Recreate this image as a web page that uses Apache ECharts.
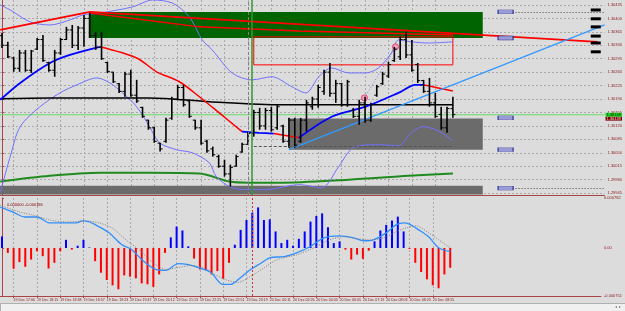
<!DOCTYPE html>
<html>
<head>
<meta charset="utf-8">
<script src="https://cdn.jsdelivr.net/npm/echarts@6/dist/echarts.min.js"></script>
<style>
  html, body { margin: 0; padding: 0; background: #dcdcdc; }
  #chart { width: 625px; height: 311px; }
</style>
</head>
<body>
<div id="chart"></div>
<script>
// price bars (index 0..77)
const opens = [1.30355,1.30330,1.30297,1.30270,1.30310,1.30265,1.30320,1.30345,1.30285,1.30265,
  1.30310,1.30345,1.30370,1.30330,1.30375,1.30400,1.30355,1.30325,1.30285,1.30260,
  1.30230,1.30210,1.30255,1.30200,1.30168,1.30135,1.30115,1.30075,1.30080,1.30140,
  1.30190,1.30220,1.30185,1.30135,1.30115,1.30080,1.30060,1.30040,1.30015,1.29995,
  1.30015,1.30052,1.30072,1.30100,1.30155,1.30120,1.30160,1.30115,1.30120,1.30080,
  1.30135,1.30080,1.30135,1.30170,1.30190,1.30210,1.30260,1.30205,1.30230,1.30175,
  1.30160,1.30145,1.30180,1.30135,1.30200,1.30230,1.30250,1.30290,1.30300,1.30345,
  1.30305,1.30280,1.30238,1.30210,1.30180,1.30150,1.30115,1.30165];
const closes = [1.30330,1.30300,1.30270,1.30310,1.30265,1.30315,1.30345,1.30290,1.30265,1.30310,
  1.30345,1.30370,1.30330,1.30375,1.30400,1.30355,1.30325,1.30295,1.30262,1.30235,
  1.30210,1.30255,1.30200,1.30185,1.30145,1.30115,1.30080,1.30060,1.30135,1.30190,
  1.30220,1.30175,1.30145,1.30115,1.30075,1.30055,1.30045,1.30015,1.29995,1.30012,
  1.30040,1.30072,1.30100,1.30155,1.30120,1.30160,1.30110,1.30170,1.30080,1.30135,
  1.30070,1.30135,1.30180,1.30190,1.30220,1.30260,1.30205,1.30230,1.30175,1.30235,
  1.30145,1.30180,1.30135,1.30175,1.30222,1.30255,1.30280,1.30320,1.30345,1.30305,
  1.30265,1.30238,1.30210,1.30180,1.30145,1.30115,1.30165,1.30150];
const highs = [1.30362,1.30339,1.30300,1.30318,1.30318,1.30318,1.30349,1.30357,1.30287,1.30318,
  1.30349,1.30378,1.30383,1.30380,1.30409,1.30414,1.30365,1.30365,1.30287,1.30261,
  1.30232,1.30261,1.30266,1.30240,1.30170,1.30136,1.30118,1.30076,1.30141,1.30196,
  1.30227,1.30227,1.30188,1.30136,1.30136,1.30084,1.30066,1.30045,1.30032,1.30019,
  1.30045,1.30076,1.30105,1.30162,1.30167,1.30167,1.30170,1.30175,1.30123,1.30141,
  1.30141,1.30141,1.30188,1.30196,1.30227,1.30266,1.30284,1.30240,1.30232,1.30240,
  1.30167,1.30188,1.30196,1.30180,1.30227,1.30261,1.30287,1.30326,1.30352,1.30365,
  1.30344,1.30284,1.30240,1.30245,1.30206,1.30170,1.30170,1.30196];
const lows = [1.30323,1.30297,1.30261,1.30261,1.30261,1.30258,1.30318,1.30287,1.30261,1.30248,
  1.30305,1.30344,1.30323,1.30318,1.30326,1.30349,1.30318,1.30292,1.30258,1.30232,
  1.30206,1.30196,1.30196,1.30180,1.30141,1.30110,1.30076,1.30053,1.30076,1.30136,
  1.30188,1.30170,1.30141,1.30110,1.30071,1.30050,1.30040,1.30011,1.29988,1.29962,
  1.30014,1.30050,1.30071,1.30092,1.30110,1.30110,1.30105,1.30110,1.30076,1.30063,
  1.30063,1.30076,1.30105,1.30162,1.30167,1.30201,1.30196,1.30180,1.30170,1.30170,
  1.30141,1.30123,1.30128,1.30131,1.30196,1.30227,1.30245,1.30287,1.30292,1.30297,
  1.30261,1.30232,1.30206,1.30170,1.30141,1.30110,1.30102,1.30141];

// MACD histogram per bar
const macdHist = [0.000181,-0.000077,-0.000325,-0.000221,-0.000294,-0.000181,-0.000051,-0.000128,-0.000320,-0.000232,
  -0.000051,0.000128,-0.000026,0.000036,0.000128,0.000008,-0.000206,-0.000387,-0.000500,-0.000584,
  -0.000646,-0.000429,-0.000449,-0.000475,-0.000553,-0.000568,-0.000608,-0.000413,-0.000077,0.000166,
  0.000336,0.000274,0.000026,-0.000166,-0.000336,-0.000345,-0.000413,-0.000361,-0.000480,-0.000232,
  0.000051,0.000283,0.000438,0.000553,0.000635,0.000438,0.000449,0.000259,0.000077,0.000128,
  0.000036,0.000144,0.000259,0.000413,0.000500,0.000542,0.000325,0.000077,0.000104,-0.000026,
  -0.000181,-0.000104,-0.000170,-0.000042,0.000104,0.000274,0.000361,0.000429,0.000491,0.000259,
  -0.000015,-0.000232,-0.000376,-0.000491,-0.000584,-0.000630,-0.000413,-0.000310];
// [bar index, value]
const macdMain = [[-0.3,0.000639],[1.9,0.000562],[3.9,0.000485],[6.0,0.000485],[8.2,0.000392],[10.4,0.000392],
  [12.8,0.000392],[13.8,0.000423],[15.0,0.000407],[16.7,0.000330],[18.4,0.000237],[20.6,0.000051],
  [22.3,-0.000026],[24.0,-0.000181],[26.4,-0.000336],[28.1,-0.000351],[30.3,-0.000243],[32.0,-0.000259],
  [33.7,-0.000305],[35.9,-0.000382],[37.9,-0.000568],[39.3,-0.000568],[41.0,-0.000460],[42.7,-0.000336],
  [44.4,-0.000243],[46.1,-0.000150],[48.5,-0.000135],[50.7,-0.000073],[52.9,0.000020],[55.3,0.000159],
  [58.0,0.000190],[60.4,0.000159],[62.1,0.000113],[63.8,0.000128],[66.0,0.000237],[67.7,0.000361],
  [69.0,0.000392],[69.9,0.000376],[71.6,0.000283],[73.3,0.000175],[75.0,0.000005],[77.0,-0.000057]];
const macdSignal = [[-0.3,0.000670],[3.1,0.000562],[5.3,0.000515],[8.2,0.000438],[11.1,0.000407],[14.5,0.000423],
  [16.7,0.000392],[18.9,0.000314],[21.3,0.000128],[23.5,-0.000026],[25.7,-0.000212],[28.1,-0.000336],
  [30.3,-0.000305],[32.5,-0.000274],[35.4,-0.000336],[35.9,-0.000382],[38.3,-0.000491],[40.5,-0.000537],
  [42.7,-0.000444],[45.1,-0.000305],[47.3,-0.000181],[50.7,-0.000104],[53.6,0.000005],[56.3,0.000128],
  [58.7,0.000175],[60.9,0.000144],[63.1,0.000128],[65.5,0.000159],[67.7,0.000252],[69.4,0.000314],
  [71.1,0.000345],[73.3,0.000237],[75.0,0.000128],[77.0,0.000005]];

// indicator lines on the price pane, [bar index, price]
const maRiseA = [[-0.3,1.30188],[3.1,1.30232],[8.2,1.30284],[11.6,1.30305],[16.7,1.30326]];
const maFallA = [[16.7,1.30326],[23.0,1.30297],[26.4,1.30261],[30.3,1.30235],[33.7,1.30196],[37.1,1.30154],[41.0,1.30105]];
const maRiseB = [[41.0,1.30105],[43.9,1.30102],[46.4,1.30100]];
const maFallB = [[46.4,1.30100],[50.7,1.30089]];
const maRiseC = [[50.7,1.30089],[56.3,1.30144],[62.1,1.30170],[67.7,1.30206],[70.6,1.30227],[71.9,1.30227]];
const maFallC = [[71.9,1.30227],[74.5,1.30219],[77.0,1.30211]];
const slowMa = [[-0.3,1.30191],[8.2,1.30193],[16.7,1.30193],[25.2,1.30193],[35.4,1.30183],[47.8,1.30175],[59.2,1.30175],[77.0,1.30175]];
const longMa = [[-0.3,1.29975],[8.2,1.29990],[16.7,1.29998],[25.2,1.29998],[33.7,1.29996],[38.8,1.29975],
  [42.2,1.29972],[47.3,1.29972],[59.2,1.29980],[69.4,1.29990],[77.0,1.29996]];
const bandUpper = [[-0.3,1.30435],[1.4,1.30422],[4.8,1.30391],[8.2,1.30383],[11.6,1.30396],[13.8,1.30409],
  [16.7,1.30414],[22.3,1.30430],[25.7,1.30448],[29.1,1.30440],[32.0,1.30404],[34.2,1.30344],[35.9,1.30318],
  [39.3,1.30258],[42.7,1.30240],[46.1,1.30248],[49.5,1.30222],[51.9,1.30206],[54.1,1.30248],[56.3,1.30271],
  [59.2,1.30258],[62.1,1.30258],[64.3,1.30271],[66.5,1.30310],[67.7,1.30344],[69.9,1.30339],[72.8,1.30336],[77.0,1.30339]];
const bandLower = [[-0.3,1.29946],[1.4,1.30040],[3.1,1.30118],[6.5,1.30170],[9.9,1.30206],[12.8,1.30227],
  [16.2,1.30245],[18.4,1.30232],[20.6,1.30206],[23.0,1.30170],[25.2,1.30118],[26.9,1.30076],[29.8,1.30058],
  [32.5,1.30050],[35.4,1.30024],[36.6,1.29988],[39.3,1.29959],[42.7,1.29954],[45.1,1.29954],[50.7,1.29967],
  [54.6,1.29959],[57.5,1.30014],[60.0,1.30063],[64.3,1.30071],[67.7,1.30068],[69.9,1.30102],[71.9,1.30118],
  [74.5,1.30107],[77.0,1.30081]];
const redLineA = [[-0.3,1.30370],[15.0,1.30417],[101.7,1.30339]];
const redLineB = [[15.0,1.30414],[33.7,1.30378],[50.7,1.30367],[77.0,1.30357]];
const trendLine = [[49.0,1.30058],[102.9,1.30383]];
const signalDots = [[61.9,1.30193],[67.2,1.30326]];

// zones [x1, price1, x2, price2]
const supplyZone = [14.8, 1.30417, 82.1, 1.30349];
const demandZone = [49.0, 1.30139, 82.1, 1.30058];
const floorZone = [-0.34, 1.29964, 82.1, 1.29941];
const boxZone = [43.0, 1.30352, 77.0, 1.30279];
const zoneLevels = [1.30417, 1.30349, 1.30141, 1.30058, 1.29958];
const boxFloor = 1.30068;
const bidPrice = 1.30149;
const askPrice = 1.30139;
const buttonLevels = [1.30422, 1.30399, 1.30378, 1.30354, 1.30336, 1.30313];

// axes
const priceTicks = [1.29945,1.29980,1.30015,1.30050,1.30085,1.30120,1.30155,1.30190,1.30225,1.30260,1.30295,1.30330,1.30365,1.30400,1.30435];
const macdTicks = [-0.000751, 0, 0.000782];
const timeTicks = [2,6,10,14,18,22,26,30,34,38,42,46,50,54,58,62,66,70,74];
const timeLabels = ['19 Dec 17:06','19 Dec 18:15','19 Dec 18:38','19 Dec 18:57','19 Dec 19:23','19 Dec 19:47',
  '19 Dec 20:12','19 Dec 21:13','19 Dec 22:25','19 Dec 22:51','19 Dec 23:19','20 Dec 00:11','20 Dec 02:26',
  '20 Dec 04:03','20 Dec 06:05','20 Dec 07:19','20 Dec 08:03','20 Dec 08:20','20 Dec 08:55'];
const macdCaption = '0.000000 -0.000186';

const X_MIN = -0.34, X_MAX = 102.9;
const AXIS = '#a84444';
const LABEL = '#8b1a1a';
const GRIDLINE = { color: '#a9a9a9', type: [2, 2], width: 1 };

const ohlcData = opens.map((o, i) => [i, o, closes[i], lows[i], highs[i]]);

function line(name, pts, color, width, extra) {
    return Object.assign({
        name: name,
        type: 'line',
        xAxisIndex: 0,
        yAxisIndex: 0,
        data: pts,
        showSymbol: false,
        smooth: 0.3,
        silent: true,
        lineStyle: { color: color, width: width }
    }, extra || {});
}

function priceLevel(name, price, color, bg, fg) {
    return line(name, [[X_MIN, price], [X_MAX, price]], color, 1, {
        smooth: false,
        z: 3,
        endLabel: {
            show: true, distance: 1, formatter: price.toFixed(5),
            fontSize: 4, color: fg, backgroundColor: bg, padding: [0, 1]
        }
    });
}

const chart = echarts.init(document.getElementById('chart'));

const option = {
    backgroundColor: '#dcdcdc',
    animation: false,
    textStyle: { fontFamily: 'Liberation Sans' },
    title: {
        text: macdCaption,
        left: 2,
        top: 198,
        textStyle: { fontSize: 4, color: '#800000', fontWeight: 'normal' }
    },
    grid: [
        { left: 0, right: 18, top: 0, height: 195 },
        { left: 0, right: 18, top: 198, height: 98 }
    ],
    xAxis: [
        {
            gridIndex: 0, type: 'value', min: X_MIN, max: X_MAX,
            axisLine: { show: true, onZero: false, lineStyle: { color: AXIS, width: 1 } },
            axisTick: { show: false, customValues: timeTicks },
            axisLabel: { show: false, customValues: timeTicks },
            splitLine: { show: true, lineStyle: GRIDLINE }
        },
        {
            gridIndex: 1, type: 'value', min: X_MIN, max: X_MAX,
            axisLine: { show: true, onZero: false, lineStyle: { color: AXIS, width: 1 } },
            axisTick: { show: true, length: 2, customValues: timeTicks, lineStyle: { color: AXIS } },
            axisLabel: {
                customValues: timeTicks,
                fontSize: 3.6,
                color: LABEL,
                align: 'left',
                margin: 2,
                formatter: function (v) {
                    const k = timeTicks.indexOf(Math.round(v));
                    return k >= 0 ? timeLabels[k] : '';
                }
            },
            splitLine: { show: true, lineStyle: GRIDLINE }
        }
    ],
    yAxis: [
        {
            gridIndex: 0, type: 'value', position: 'right', min: 1.29940, max: 1.30448, scale: true,
            axisLine: { show: true, lineStyle: { color: AXIS, width: 1 } },
            axisTick: { show: true, length: 2, customValues: priceTicks, lineStyle: { color: AXIS } },
            axisLabel: {
                customValues: priceTicks,
                fontSize: 4,
                color: LABEL,
                margin: 3,
                formatter: function (v) { return v.toFixed(5); }
            },
            splitLine: { show: true, lineStyle: GRIDLINE }
        },
        {
            gridIndex: 1, type: 'value', position: 'right', min: -0.000751, max: 0.000782,
            axisLine: { show: true, lineStyle: { color: AXIS, width: 1 } },
            axisTick: { show: true, length: 2, customValues: macdTicks, lineStyle: { color: AXIS } },
            axisLabel: {
                customValues: macdTicks,
                fontSize: 4,
                color: LABEL,
                margin: 3,
                formatter: function (v) { return v === 0 ? '0.00' : v.toFixed(6); }
            },
            splitLine: { show: false }
        }
    ],
    graphic: [
        { type: 'rect', left: 0, top: 303, shape: { width: 625, height: 8 }, style: { fill: '#f0f0f0', stroke: '#b0b0b0', lineWidth: 1 }, silent: true },
        { type: 'text', right: 4, top: 305, style: { text: '◂  ▸', fontSize: 4, fill: '#777' }, silent: true }
    ],
    series: [
        {
            name: 'zones',
            type: 'line',
            xAxisIndex: 0,
            yAxisIndex: 0,
            data: [],
            silent: true,
            markArea: {
                silent: true,
                data: [
                    [{ coord: [supplyZone[0], supplyZone[1]], itemStyle: { color: '#006400' } }, { coord: [supplyZone[2], supplyZone[3]] }],
                    [{ coord: [demandZone[0], demandZone[1]], itemStyle: { color: '#6b6b6b' } }, { coord: [demandZone[2], demandZone[3]] }],
                    [{ coord: [floorZone[0], floorZone[1]], itemStyle: { color: '#6b6b6b' } }, { coord: [floorZone[2], floorZone[3]] }],
                    [{ coord: [boxZone[0], boxZone[1]], itemStyle: { color: 'rgba(0,0,0,0)', borderColor: '#ff0000', borderWidth: 1 } }, { coord: [boxZone[2], boxZone[3]] }]
                ]
            },
            markLine: {
                silent: true,
                symbol: 'none',
                label: { show: false },
                data: [
                    { xAxis: 42.0, lineStyle: { color: '#808080', type: [3, 2], width: 1 } },
                    { xAxis: 42.7, lineStyle: { color: '#2e9b2e', type: 'solid', width: 1.5 } },
                    [{ coord: [boxZone[0], boxFloor], lineStyle: { color: '#555', type: [3, 2], width: 1 } }, { coord: [boxZone[2], boxFloor] }],
                    [{ coord: [87.2, zoneLevels[0]], lineStyle: { color: '#444', type: [1, 2], width: 1 } }, { coord: [X_MAX, zoneLevels[0]] }],
                    [{ coord: [87.2, zoneLevels[4]], lineStyle: { color: '#444', type: [1, 2], width: 1 } }, { coord: [X_MAX, zoneLevels[4]] }]
                ]
            },
            markPoint: {
                silent: true,
                label: { show: false },
                data: zoneLevels.map(p => ({
                    coord: [86.0, p], symbol: 'rect', symbolSize: [15, 4],
                    itemStyle: { color: '#9a9ad6', borderColor: '#2c2c90', borderWidth: 0.6 }
                })).concat(buttonLevels.map(p => ({
                    coord: [101.4, p], symbol: 'rect', symbolSize: [10, 3],
                    itemStyle: { color: '#000' }
                })))
            }
        },
        priceLevel('Ask', askPrice, 'rgba(0,0,0,0)', '#7a0000', '#ffdddd'),
        priceLevel('Bid', bidPrice, '#66dd66', '#22cc22', '#003300'),
        line('Long MA', longMa, '#1f8b1f', 2),
        line('Upper band', bandUpper, '#7070ff', 1),
        line('Lower band', bandLower, '#7070ff', 1),
        line('Slow MA', slowMa, '#000000', 1.5),
        line('Red line A', redLineA, '#ff0000', 1.8, { smooth: false }),
        line('Red line B', redLineB, '#ff0000', 1.5, { smooth: false }),
        line('MA up 1', maRiseA, '#0000ff', 1.8),
        line('MA down 1', maFallA, '#ff0000', 1.5),
        line('MA up 2', maRiseB, '#0000ff', 1.8),
        line('MA down 2', maFallB, '#ff0000', 1.5),
        line('MA up 3', maRiseC, '#0000ff', 1.8),
        line('MA down 3', maFallC, '#ff0000', 1.5),
        line('Trend', trendLine, '#3399ff', 1.3, { smooth: false }),
        line('Signals', signalDots, '#7b7bef', 1, {
            smooth: false,
            showSymbol: true,
            symbol: 'circle',
            symbolSize: 6,
            lineStyle: { color: '#7b7bef', width: 1, type: [1, 2] },
            itemStyle: { color: '#f4a3c3', borderColor: '#e0406f', borderWidth: 1 }
        }),
        {
            name: 'Price',
            type: 'custom',
            xAxisIndex: 0,
            yAxisIndex: 0,
            data: ohlcData,
            encode: { x: 0, y: [1, 2, 3, 4] },
            silent: true,
            z: 4,
            renderItem: function (params, api) {
                const x = api.value(0);
                const o = api.coord([x, api.value(1)]);
                const c = api.coord([x, api.value(2)]);
                const l = api.coord([x, api.value(3)]);
                const h = api.coord([x, api.value(4)]);
                const st = { stroke: '#000', lineWidth: 1.6 };
                return {
                    type: 'group',
                    children: [
                        { type: 'line', shape: { x1: h[0], y1: h[1], x2: l[0], y2: l[1] }, style: st },
                        { type: 'line', shape: { x1: o[0] - 2.5, y1: o[1], x2: o[0], y2: o[1] }, style: { stroke: '#000', lineWidth: 1 } },
                        { type: 'line', shape: { x1: c[0], y1: c[1], x2: c[0] + 2.5, y2: c[1] }, style: { stroke: '#000', lineWidth: 1 } }
                    ]
                };
            }
        },
        {
            name: 'MACD hist',
            type: 'bar',
            xAxisIndex: 1,
            yAxisIndex: 1,
            data: macdHist.map((v, i) => [i, v]),
            barWidth: 2,
            silent: true,
            itemStyle: {
                color: function (p) { return p.value[1] >= 0 ? '#0000ff' : '#ff0000'; }
            },
            markLine: {
                silent: true,
                symbol: 'none',
                label: { show: false },
                data: [{ xAxis: 43.0, lineStyle: { color: '#cc3333', type: [2, 2], width: 1 } }]
            }
        },
        {
            name: 'MACD',
            type: 'line',
            xAxisIndex: 1,
            yAxisIndex: 1,
            data: macdMain,
            showSymbol: false,
            smooth: 0.3,
            silent: true,
            lineStyle: { color: '#2f8fff', width: 1.3 }
        },
        {
            name: 'Signal',
            type: 'line',
            xAxisIndex: 1,
            yAxisIndex: 1,
            data: macdSignal,
            showSymbol: false,
            smooth: 0.3,
            silent: true,
            lineStyle: { color: '#808080', width: 1, type: [1, 1.5] }
        }
    ]
};

chart.setOption(option);
</script>
</body>
</html>
